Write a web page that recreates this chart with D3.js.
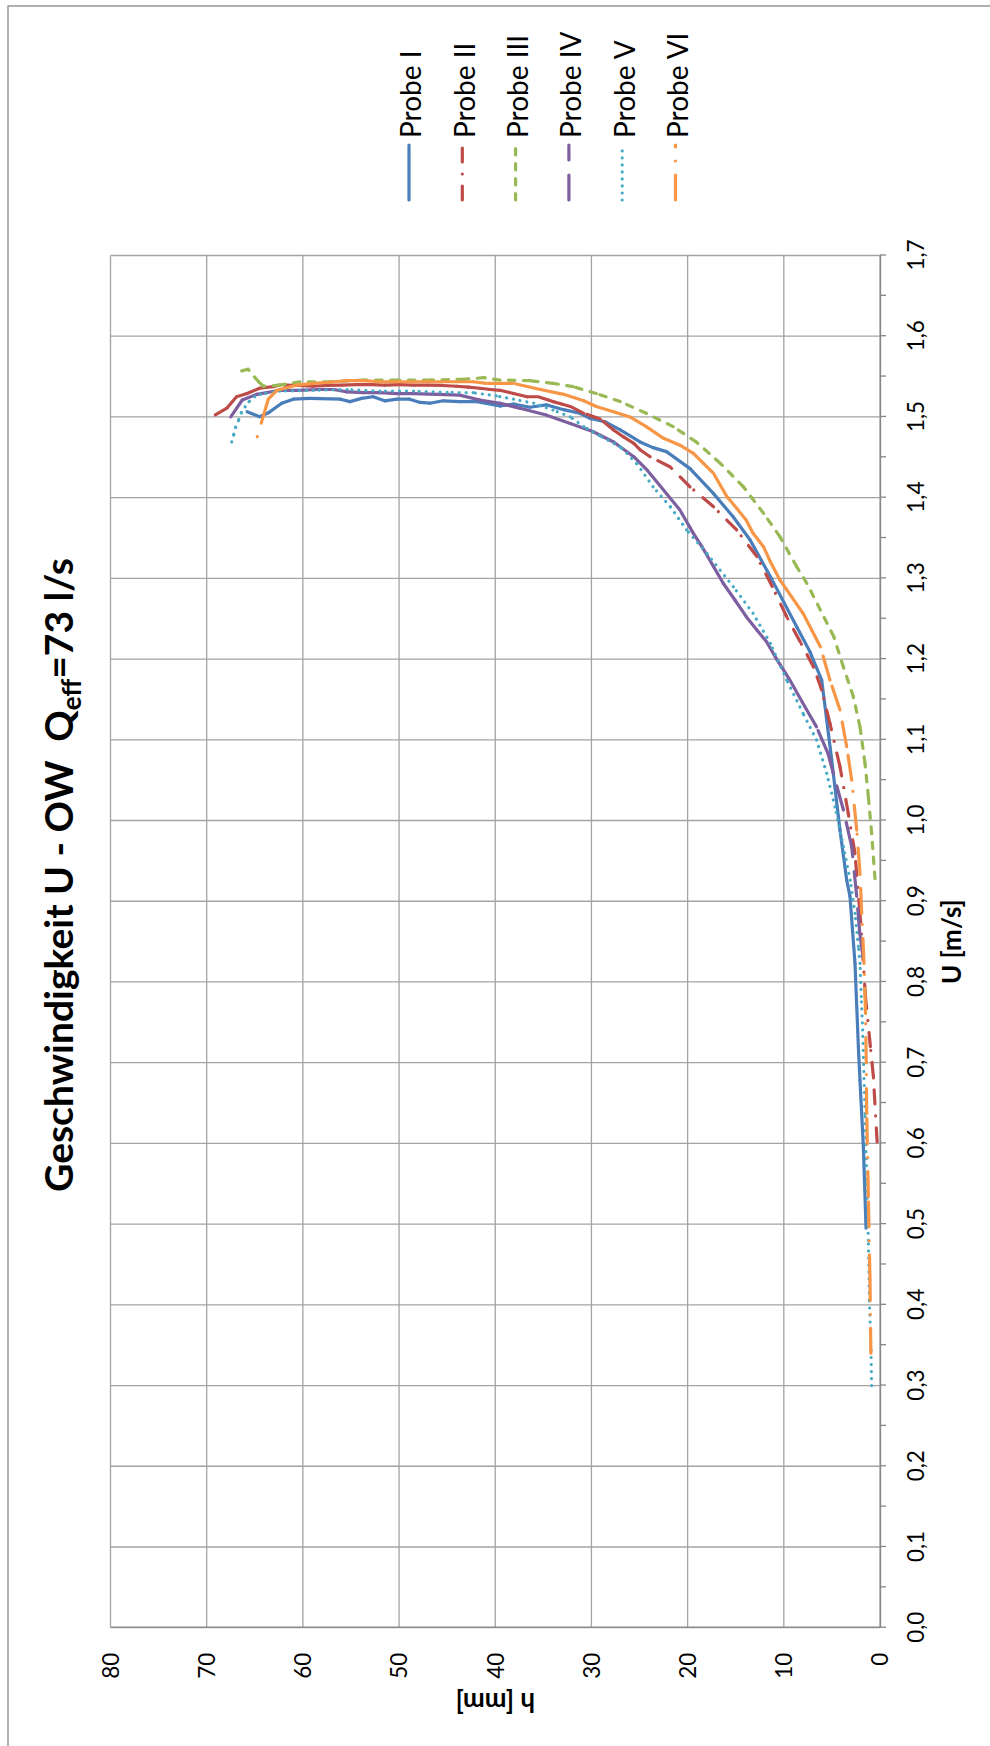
<!DOCTYPE html>
<html>
<head>
<meta charset="utf-8">
<script src="https://cdn.jsdelivr.net/npm/d3@7"></script>
<style>
  body { margin: 0; background: #fff; }
  svg { display: block; }
  text { font-family: Lato, "Open Sans", sans-serif; fill: #000; }
</style>
</head>
<body>
<svg id="chart" width="990" height="1746"></svg>
<script>
// ---- data: velocity profiles, [h in mm, U in m/s], ordered by height ----
const probeNames = ["Probe I", "Probe II", "Probe III", "Probe IV", "Probe V", "Probe VI"];

const probeI = [
  [1.45,0.495],[1.73,0.596],[2.08,0.678],[2.25,0.72],[2.6,0.823],[3.12,0.906],[3.46,0.926],
  [4.16,0.988],[5.02,1.075],[5.54,1.1245],[6.06,1.174],[7.28,1.209],[8.66,1.24],[11.3,1.30],
  [13.5,1.3475],[15.25,1.376],[17.3,1.405],[19.75,1.436],[22.2,1.457],[23.6,1.462],[24.95,1.469],
  [27.0,1.484],[28.6,1.494],[30.1,1.498],[31.2,1.5045],[32.9,1.509],[34.7,1.515],[36.4,1.512],
  [38.1,1.516],[39.5,1.5135],[41.9,1.519],[43.7,1.519],[45.4,1.52],[46.8,1.517],[47.8,1.518],
  [48.9,1.522],[50.2,1.522],[51.5,1.52],[52.7,1.525],[53.9,1.523],[55.1,1.519],[56.1,1.522],
  [59.3,1.523],[61.0,1.522],[62.2,1.517],[63.6,1.505],[64.5,1.5003],[65.8,1.5065]
];

const probeII = [
  [0.3,0.602],[0.69,0.683],[1.0,0.72],[1.5,0.78],[2.08,0.885],[2.6,0.959],[3.3,1.009],
  [4.16,1.0667],[5.2,1.12],[6.06,1.1617],[6.9,1.19],[8.3,1.2215],[9.7,1.2525],[11.2,1.29],
  [12.8,1.327],[14.9,1.36],[17.3,1.3887],[19.75,1.4135],[21.8,1.438],[23.9,1.4507],[24.95,1.4594],
  [25.6,1.4673],[26.7,1.4755],[27.7,1.4838],[29.1,1.4975],[30.8,1.5045],[32.2,1.513],[33.1,1.516],
  [34.0,1.519],[35.5,1.525],[36.7,1.525],[38.1,1.529],[39.5,1.533],[40.5,1.534],[41.6,1.5355],
  [42.8,1.537],[44.0,1.538],[45.5,1.539],[47.0,1.5395],[48.5,1.5395],[50.0,1.54],[51.5,1.5395],
  [53.0,1.54],[54.5,1.54],[56.0,1.5395],[57.5,1.539],[59.0,1.538],[60.5,1.539],[62.4,1.5395],
  [63.1,1.5375],[64.5,1.5355],[65.8,1.529],[66.9,1.525],[67.9,1.511],[69.1,1.5025]
];

const probeIII = [
  [0.52,0.928],[0.87,0.984],[1.21,1.0295],[1.56,1.071],[2.08,1.116],[2.77,1.1534],[3.8,1.19],
  [4.8,1.2277],[6.2,1.2608],[7.6,1.2939],[8.66,1.3144],[10.4,1.3516],[12.1,1.3805],[14.2,1.4135],
  [16.6,1.4425],[19.1,1.469],[21.5,1.488],[24.3,1.5045],[27.0,1.519],[29.5,1.529],[31.9,1.5375],
  [34.0,1.5416],[36.4,1.545],[39.5,1.5457],[41.2,1.5486],[43.3,1.5466],[46.8,1.5457],[50.2,1.5457],
  [53.7,1.5457],[57.2,1.5435],[60.3,1.5435],[62.4,1.5395],[64.1,1.538],[64.6,1.5435],[65.7,1.559],
  [66.4,1.557]
];

const probeIV = [
  [1.75,0.83],[2.1,0.86],[2.42,0.906],[2.94,0.9675],[3.8,1.013],[4.85,1.058],[5.4,1.083],
  [6.6,1.116],[8.0,1.145],[9.36,1.174],[10.7,1.199],[11.8,1.2215],[12.8,1.236],[13.9,1.2525],
  [15.1,1.2735],[16.3,1.294],[17.7,1.3227],[18.5,1.339],[19.4,1.3558],[20.8,1.3847],[22.5,1.4095],
  [24.2,1.434],[25.6,1.4507],[27.7,1.469],[29.8,1.4817],[32.2,1.492],[34.7,1.5024],[37.4,1.5106],
  [39.5,1.517],[41.6,1.521],[43.7,1.527],[46.0,1.528],[48.5,1.529],[50.2,1.529],[52.0,1.53],
  [53.7,1.53],[55.4,1.531],[56.8,1.534],[58.5,1.534],[60.5,1.533],[62.4,1.533],[64.8,1.528],
  [66.3,1.521],[67.5,1.5]
];

const probeV = [
  [0.87,0.3],[0.94,0.344],[1.1,0.406],[1.21,0.48],[1.38,0.555],[1.56,0.637],[1.8,0.7405],
  [1.95,0.782],[2.08,0.823],[2.25,0.844],[2.6,0.885],[3.1,0.926],[3.8,0.9675],[4.68,1.017],
  [5.54,1.0585],[6.6,1.0998],[8.0,1.1328],[9.7,1.174],[11.4,1.2195],[13.2,1.2567],[15.25,1.2897],
  [18.0,1.331],[20.1,1.36],[21.8,1.3887],[23.6,1.4135],[25.3,1.4425],[27.0,1.463],[29.2,1.477],
  [30.8,1.488],[32.2,1.5],[34.0,1.5085],[36.0,1.517],[38.1,1.522],[39.9,1.526],[42.3,1.53],
  [45.0,1.5305],[48.5,1.532],[52.0,1.532],[55.4,1.534],[58.9,1.533],[62.4,1.532],[64.4,1.528],
  [65.0,1.525],[65.6,1.519],[66.0,1.5126],[66.4,1.505],[66.7,1.4953],[67.0,1.487],[67.2,1.4775],
  [67.4,1.469]
];

const probeVI = [
  [0.95,0.34],[1.04,0.431],[1.21,0.534],[1.38,0.637],[1.43,0.7],[1.5,0.761],[1.66,0.823],
  [1.9,0.885],[2.08,0.935],[2.42,0.988],[2.94,1.05],[3.46,1.0914],[4.16,1.137],[5.2,1.174],
  [6.2,1.2153],[7.1,1.236],[8.0,1.2567],[9.2,1.2773],[10.4,1.298],[11.4,1.3206],[12.1,1.339],
  [13.2,1.3558],[13.9,1.372],[14.9,1.3868],[15.9,1.401],[17.3,1.43],[18.35,1.4425],[19.4,1.455],
  [20.8,1.465],[22.5,1.4735],[24.3,1.488],[26.0,1.5],[27.7,1.5065],[29.5,1.513],[30.8,1.52],
  [32.9,1.528],[35.3,1.534],[38.1,1.5416],[40.9,1.5416],[42.3,1.5436],[45.0,1.5436],[46.7,1.5436],
  [48.5,1.5436],[50.2,1.5436],[52.0,1.5436],[53.7,1.545],[55.4,1.545],[57.2,1.543],[58.9,1.5416],
  [60.6,1.5395],[62.7,1.533],[63.6,1.522],[65.0,1.465]
];

const uTickValues = [0,0.1,0.2,0.3,0.4,0.5,0.6,0.7,0.8,0.9,1.0,1.1,1.2,1.3,1.4,1.5,1.6,1.7];
const uTickLabels = ["0,0","0,1","0,2","0,3","0,4","0,5","0,6","0,7","0,8","0,9",
                     "1,0","1,1","1,2","1,3","1,4","1,5","1,6","1,7"];
const uMinorTicks = [0.05,0.15,0.25,0.35,0.45,0.55,0.65,0.75,0.85,0.95,1.05,1.15,1.25,1.35,1.45,1.55,1.65];
const hTickValues = [0,10,20,30,40,50,60,70,80];
const hTickLabels = ["0","10","20","30","40","50","60","70","80"];

const chartTitle = "Geschwindigkeit U - OW  Q";
const titleSub = "eff";
const titleTail = "=73 l/s";
const uTitle = "U [m/s]";
const hTitle = "h [mm]";

// ---- styles ----
const probeColors = ["#4A7EBB", "#BE4B48", "#98B954", "#7D5FA0", "#46AAC5", "#F79646"];
// dash patterns (round caps add half a stroke width to each end)
const probeDashes = ["none", "14 12 0.01 12", "6.5 8.5", "25 15", "0.01 7", "25 14 0.01 14"];
const gridColor = "#a3a3a3";
const axisColor = "#868686";
const FONT = "Lato, 'Open Sans', sans-serif";

// ---- layout: the landscape chart is turned a quarter turn anticlockwise ----
const PAGE_H = 1746;
const svg = d3.select("#chart");
const g = svg.append("g").attr("transform", `translate(0,${PAGE_H}) rotate(-90)`);

const x = d3.scaleLinear().domain([0, 1.7]).range([118.3, 1490.5]);
const y = d3.scaleLinear().domain([0, 80]).range([880, 110.5]);

// chart area border
g.append("rect")
  .attr("x", -20).attr("y", 8).attr("width", 1760).attr("height", 1010)
  .attr("fill", "#fff").attr("stroke", axisColor).attr("stroke-width", 1.3);

// gridlines
g.append("g").selectAll("line").data(uTickValues).join("line")
  .attr("x1", d => x(d)).attr("x2", d => x(d))
  .attr("y1", y(80)).attr("y2", y(0))
  .attr("stroke", gridColor).attr("stroke-width", 1.3);
g.append("g").selectAll("line").data(hTickValues).join("line")
  .attr("x1", x(0)).attr("x2", x(1.7))
  .attr("y1", d => y(d)).attr("y2", d => y(d))
  .attr("stroke", gridColor).attr("stroke-width", 1.3);

// U axis with major and minor ticks
const uAxis = g.append("g")
  .attr("transform", `translate(0,${y(0)})`)
  .call(d3.axisBottom(x).tickValues(uTickValues)
    .tickFormat((d, i) => uTickLabels[i]).tickSize(6).tickSizeOuter(0));
uAxis.attr("font-family", FONT).attr("font-size", 22.5);
uAxis.select(".domain").attr("stroke", axisColor).attr("stroke-width", 1.3);
uAxis.selectAll(".tick line").attr("stroke", axisColor).attr("stroke-width", 1.3);
uAxis.selectAll(".tick text").attr("y", 36).attr("dy", "0.35em").attr("fill", "#000");

const uMinor = g.append("g")
  .attr("transform", `translate(0,${y(0)})`)
  .call(d3.axisBottom(x).tickValues(uMinorTicks).tickFormat("").tickSize(6).tickSizeOuter(0));
uMinor.select(".domain").remove();
uMinor.selectAll(".tick line").attr("stroke", axisColor).attr("stroke-width", 1.3);

// h axis
const hAxis = g.append("g")
  .attr("transform", `translate(${x(0)},0)`)
  .call(d3.axisLeft(y).tickValues(hTickValues)
    .tickFormat((d, i) => hTickLabels[i]).tickSize(0).tickPadding(25).tickSizeOuter(0));
hAxis.attr("font-family", FONT).attr("font-size", 22.5);
hAxis.select(".domain").attr("stroke", axisColor).attr("stroke-width", 1.3);
hAxis.selectAll(".tick text").attr("dy", "0.35em").attr("fill", "#000");

// series: every segment starts its dash pattern afresh
const probeData = [probeI, probeII, probeIII, probeIV, probeV, probeVI];
probeData.forEach((vals, i) => {
  g.append("g").attr("class", "probe")
    .selectAll("line").data(d3.pairs(vals)).join("line")
    .attr("x1", d => x(d[0][1])).attr("y1", d => y(d[0][0]))
    .attr("x2", d => x(d[1][1])).attr("y2", d => y(d[1][0]))
    .attr("stroke", probeColors[i])
    .attr("stroke-width", 3.2)
    .attr("stroke-linecap", "round")
    .attr("stroke-dasharray", probeDashes[i]);
});

// title
const title = g.append("text")
  .attr("x", 871).attr("y", 73)
  .attr("text-anchor", "middle")
  .attr("font-weight", "bold").attr("font-size", 39)
  .style("white-space", "pre");
title.append("tspan").text(chartTitle);
title.append("tspan").attr("font-size", 26).attr("dy", 8).text(titleSub);
title.append("tspan").attr("dy", -8).text(titleTail);

// axis titles
g.append("text")
  .attr("x", (x(0) + x(1.7)) / 2).attr("y", 961)
  .attr("text-anchor", "middle")
  .attr("font-weight", "bold").attr("font-size", 26)
  .text(uTitle);
g.append("text")
  .attr("transform", `translate(53,${(y(0) + y(80)) / 2}) rotate(-90)`)
  .attr("text-anchor", "middle")
  .attr("font-weight", "bold").attr("font-size", 26)
  .text(hTitle);

// legend
const legend = g.append("g");
probeNames.forEach((name, i) => {
  const ly = 409 + i * 53.3;
  legend.append("line")
    .attr("x1", 1546).attr("x2", 1601).attr("y1", ly).attr("y2", ly)
    .attr("stroke", probeColors[i]).attr("stroke-width", 3.2)
    .attr("stroke-linecap", "round")
    .attr("stroke-dasharray", probeDashes[i]);
  legend.append("text")
    .attr("x", 1608).attr("y", ly + 2.5).attr("dy", "0.35em")
    .attr("font-size", 28)
    .text(name);
});
</script>
</body>
</html>
